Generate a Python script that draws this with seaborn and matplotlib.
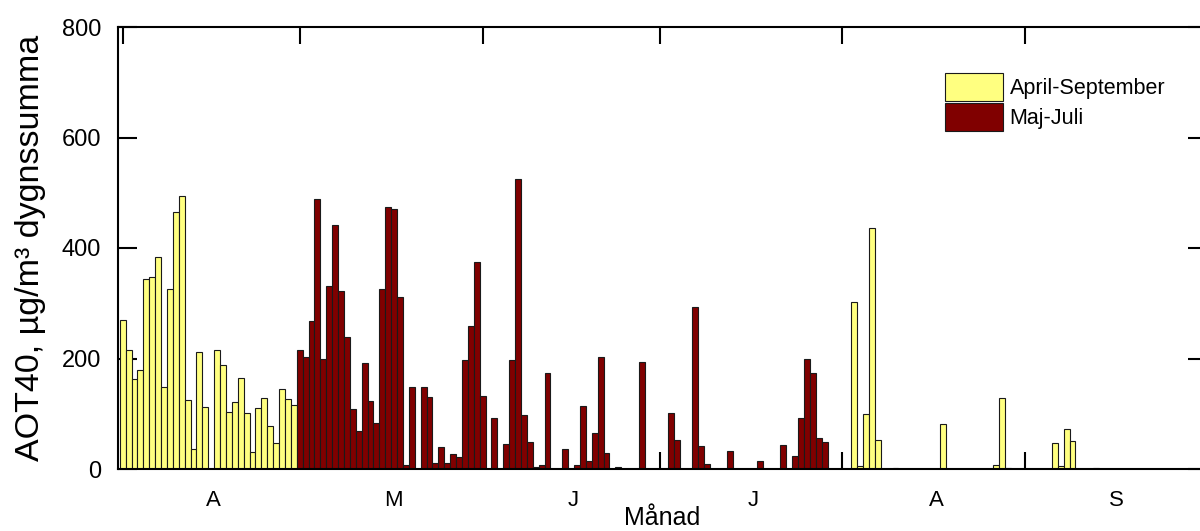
import numpy as np
import pandas as pd
import matplotlib
matplotlib.use("Agg")
import matplotlib.pyplot as plt
import seaborn as sns

# ---- data (daily AOT40 sums, April 1 - September 30) ----
april = [270, 215, 162, 179, 343, 347, 384, 148, 326, 465, 494, 124, 37, 212, 113,
         0, 216, 189, 103, 121, 165, 101, 31, 110, 128, 78, 47, 144, 127, 115]
may = [216, 203, 268, 489, 200, 332, 442, 322, 239, 108, 69, 191, 123, 84, 325,
       475, 471, 311, 8, 149, 0, 148, 131, 11, 40, 11, 28, 22, 197, 258, 374]
june = [133, 0, 92, 0, 45, 197, 524, 98, 48, 4, 8, 174, 0, 0, 37,
        0, 8, 114, 14, 65, 202, 29, 0, 3, 0, 0, 0, 194, 0, 0]
july = [0, 0, 101, 52, 0, 0, 294, 42, 9, 0, 0, 0, 32, 0, 0, 0,
        0, 15, 0, 0, 0, 43, 0, 24, 93, 200, 173, 56, 49, 0, 0]
august = [0, 0, 302, 6, 100, 436, 52, 0, 0, 2, 0, 0, 0, 0, 0, 0,
          0, 82, 0, 0, 0, 0, 0, 0, 0, 0, 8, 128, 2, 0, 0]
september = [0, 0, 0, 0, 0, 47, 6, 73, 51, 0, 0, 0, 2, 0, 0,
             0, 0, 0, 0, 0, 0, 0, 0, 0, 0, 0, 0, 0, 0, 0]

month_labels = ["A", "M", "J", "J", "A", "S"]
series_names = ["April-September", "Maj-Juli"]

months = [april, may, june, july, august, september]
values, period, day = [], [], []
d = 0
for mi, m in enumerate(months):
    for v in m:
        values.append(v)
        period.append(series_names[1] if mi in (1, 2, 3) else series_names[0])
        day.append(d)
        d += 1
df = pd.DataFrame({"day": day, "value": values, "period": period})

month_len = [len(m) for m in months]
month_start = np.concatenate([[0], np.cumsum(month_len)[:-1]])
month_mid = month_start + np.array(month_len) / 2.0 + 0.4

# ---- style ----
sns.set_style("ticks")
plt.rcParams["font.family"] = ["Liberation Sans", "DejaVu Sans"]
for k in ["text.color", "axes.labelcolor", "xtick.color", "ytick.color", "axes.edgecolor"]:
    plt.rcParams[k] = "black"

fig = plt.figure(figsize=(12, 5.31), dpi=100)
W, H = 1200, 531
left, right, top, bottom = 118, 1207, 27, 469
ax = fig.add_axes([left / W, 1 - bottom / H, (right - left) / W, (bottom - top) / H])

palette = {series_names[0]: "#FFFF80", series_names[1]: "#800000"}
sns.barplot(data=df, x="day", y="value", hue="period", hue_order=series_names,
            palette=palette, dodge=False, width=1.0, saturation=1,
            edgecolor="#1a1a1a", linewidth=0.8, ax=ax)

ax.set_xlim(-0.8, 183.8)
ax.set_ylim(0, 800)
ax.set_yticks([0, 200, 400, 600, 800])
ax.set_xticks(month_start)
ax.set_xticklabels([])
ax.set_xticks(month_mid, minor=True)
ax.set_xticklabels(month_labels, minor=True)

ax.tick_params(axis="x", which="major", direction="in", length=12, width=1.5,
               top=True, bottom=True)
ax.tick_params(axis="x", which="minor", length=0, pad=15, labelsize=16)
ax.tick_params(axis="y", direction="in", length=14, width=1.5, left=True,
               right=True, labelsize=17, pad=12)
for s in ax.spines.values():
    s.set_visible(True)
    s.set_linewidth(1.5)
    s.set_color("black")

ax.set_xlabel("Månad", fontsize=18)
ax.xaxis.set_label_coords(0.5, -0.084)
ax.set_ylabel("AOT40, µg/m³ dygnssumma", fontsize=24.5)
ax.yaxis.set_label_coords(-0.066, 0.5)

handles, labels = ax.get_legend_handles_labels()
ax.legend(handles, labels, loc="upper left",
          bbox_to_anchor=(945 / W, 1 - 73 / H), bbox_transform=fig.transFigure,
          frameon=False, fontsize=15.5, handlelength=2.7, handleheight=1.6,
          handletextpad=0.3, labelspacing=0.12, borderpad=0, borderaxespad=0)

fig.savefig("out.png", dpi=100)
